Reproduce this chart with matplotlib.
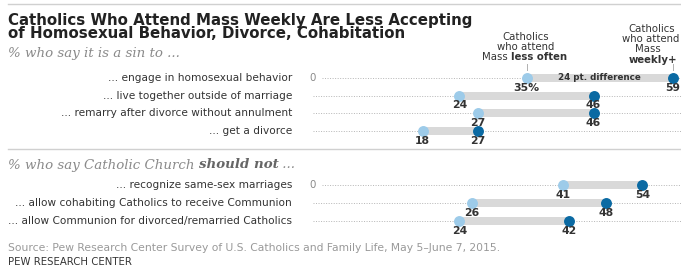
import matplotlib
matplotlib.use("Agg")
import matplotlib.pyplot as plt
from matplotlib.lines import Line2D

# ---------------- data ----------------
sin_items = ["... engage in homosexual behavior",
             "... live together outside of marriage",
             "... remarry after divorce without annulment",
             "... get a divorce"]
sin_less_often = [35, 24, 27, 18]
sin_weekly = [59, 46, 46, 27]

church_items = ["... recognize same-sex marriages",
                "... allow cohabiting Catholics to receive Communion",
                "... allow Communion for divorced/remarried Catholics"]
church_less_often = [41, 26, 24]
church_weekly = [54, 48, 42]

title_lines = ["Catholics Who Attend Mass Weekly Are Less Accepting",
               "of Homosexual Behavior, Divorce, Cohabitation"]
source = "Source: Pew Research Center Survey of U.S. Catholics and Family Life, May 5\u2013June 7, 2015."
brand = "PEW RESEARCH CENTER"

# ---------------- style ----------------
LIGHT = "#9dcbe9"
DARK = "#0b6aa3"
BAR = "#d9d9d9"
DOT_LINE = "#b5b5b5"
TXT = "#333333"
GREY = "#8a8a8a"
SANS = ["DejaVu Sans"]
SERIF = ["DejaVu Serif"]

W, H = 681, 271
fig = plt.figure(figsize=(W / 100, H / 100), dpi=100)
fig.patch.set_facecolor("white")


def fx(px):
    return px / W


def fy(py):
    return 1 - py / H


X0 = 313
PX_PER = 6.1
XMAX = (W - X0) / PX_PER


def make_axes(first_px, spacing, n):
    top = first_px - spacing / 2
    bottom = first_px + spacing * (n - 0.5)
    ax = fig.add_axes([fx(X0), fy(bottom), (W - X0) / W, (bottom - top) / H])
    ax.set_xlim(0, XMAX)
    ax.set_ylim(n - 0.5, -0.5)
    ax.axis("off")
    return ax


def draw_section(ax, items, less, weekly, spacing, first_pct=False, diff_label=False):
    for i, (lab, l, w) in enumerate(zip(items, less, weekly)):
        start = 1.5 if i == 0 else 0
        ax.plot([start, XMAX], [i, i], ls=(0, (1, 1.6)), color=DOT_LINE, lw=0.7,
                zorder=1, clip_on=False)
        ax.barh(i, w - l, left=l, height=8 / spacing, color=BAR, zorder=2, lw=0)
        ax.scatter([l], [i], s=62, color=LIGHT, zorder=3, lw=0, clip_on=False)
        ax.scatter([w], [i], s=62, color=DARK, zorder=3, lw=0, clip_on=False)
        ltxt = f"{l}%" if (first_pct and i == 0) else f"{l}"
        for v, t in ((l, ltxt), (w, f"{w}")):
            ax.annotate(t, (v, i), xytext=(0, -6.9), textcoords="offset points",
                        ha="center", va="center", fontsize=7.8, fontweight="bold",
                        color=TXT, family=SANS, annotation_clip=False)
        ax.annotate(lab, (0, i), xytext=(-15.2, 0), textcoords="offset points",
                    ha="right", va="center", fontsize=7.6, color=TXT, family=SANS,
                    annotation_clip=False)
        if i == 0:
            ax.annotate("0", (0, i), ha="center", va="center", fontsize=7.4,
                        color=GREY, family=SANS, annotation_clip=False)
            if diff_label:
                ax.text((l + w) / 2, i, f"{w - l} pt. difference", ha="center",
                        va="center", fontsize=6.3, fontweight="bold", color=TXT,
                        family=SANS, zorder=4)


ax1 = make_axes(78, 17.67, len(sin_items))
draw_section(ax1, sin_items, sin_less_often, sin_weekly, 17.67,
             first_pct=True, diff_label=True)
ax2 = make_axes(185, 18, len(church_items))
draw_section(ax2, church_items, church_less_often, church_weekly, 18)

# header ticks
for v in (sin_less_often[0], sin_weekly[0]):
    ax1.plot([v, v], [-0.80, -0.47], color="#b0b0b0", lw=0.7, clip_on=False)

# ---------------- texts ----------------
fig.add_artist(Line2D([fx(8), 1], [fy(4), fy(4)], color="#d0d0d0", lw=1))
fig.add_artist(Line2D([fx(8), 1], [fy(149), fy(149)], color="#d0d0d0", lw=1))

for line, ypx in zip(title_lines, (20, 34)):
    fig.text(fx(8), fy(ypx), line, ha="left", va="center", fontsize=10.8,
             fontweight="bold", color="#222222", family=SANS)

SUBF = 9.6
fig.text(fx(8), fy(53), "% who say it is a sin to ...", ha="left", va="center",
         fontsize=SUBF, style="italic", color=GREY, family=SERIF)

# second subtitle with bold part
t1 = fig.text(fx(8), fy(165), "% who say Catholic Church ", ha="left", va="center",
              fontsize=SUBF, style="italic", color=GREY, family=SERIF)
fig.canvas.draw()
bb = t1.get_window_extent()
t2 = fig.text(bb.x1 / W, fy(165), "should not", ha="left", va="center",
              fontsize=SUBF, style="italic", fontweight="bold", color="#666666",
              family=SERIF)
fig.canvas.draw()
bb2 = t2.get_window_extent()
fig.text(bb2.x1 / W, fy(165), " ...", ha="left", va="center",
         fontsize=SUBF, style="italic", color=GREY, family=SERIF)

# column headers
HF = 7.3
fig.text(fx(526), fy(37), "Catholics", ha="center", va="center", fontsize=HF,
         color=TXT, family=SANS)
fig.text(fx(526), fy(47), "who attend", ha="center", va="center", fontsize=HF,
         color=TXT, family=SANS)
fig.text(fx(508), fy(57.3), "Mass", ha="right", va="center", fontsize=HF,
         color=TXT, family=SANS)
fig.text(fx(511), fy(57.3), "less often", ha="left", va="center", fontsize=HF,
         color=TXT, family=SANS, fontweight="bold")

fig.text(fx(652), fy(29.3), "Catholics", ha="center", va="center", fontsize=HF,
         color=TXT, family=SANS)
fig.text(fx(651), fy(39.3), "who attend", ha="center", va="center", fontsize=HF,
         color=TXT, family=SANS)
fig.text(fx(648), fy(49.3), "Mass", ha="center", va="center", fontsize=HF,
         color=TXT, family=SANS)
fig.text(fx(653), fy(60), "weekly+", ha="center", va="center", fontsize=HF,
         color=TXT, family=SANS, fontweight="bold")

fig.text(fx(8), fy(248), source, ha="left", va="center", fontsize=7.75,
         color="#999999", family=SANS)
fig.text(fx(8), fy(262), brand, ha="left", va="center", fontsize=7.3,
         color=TXT, family=SANS)

fig.savefig("out.png", dpi=100, facecolor="white")
